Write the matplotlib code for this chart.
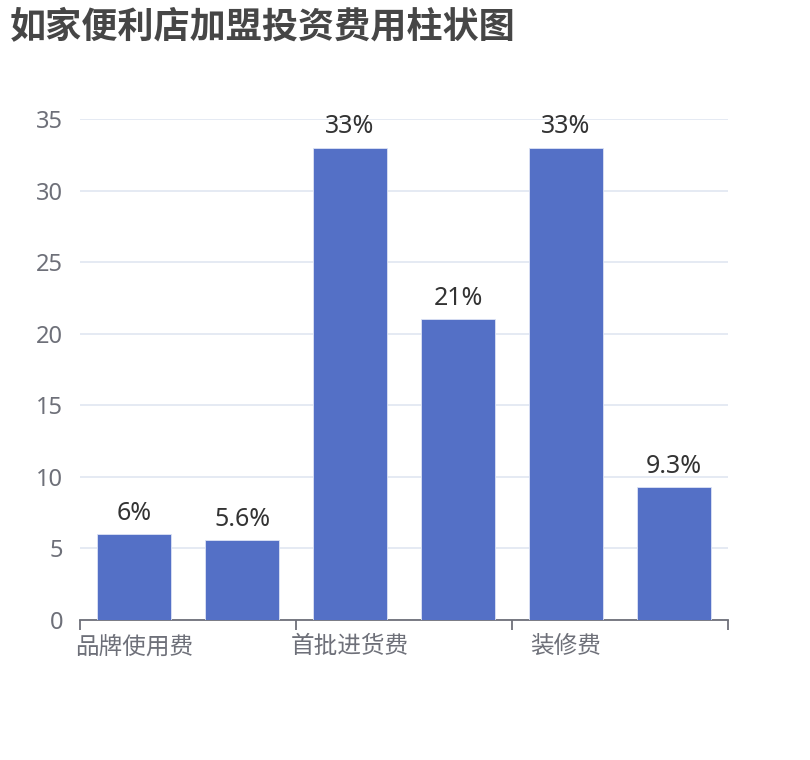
import numpy as np
import matplotlib
matplotlib.use("Agg")
import matplotlib.pyplot as plt

plt.rcParams['font.family'] = ['Noto Sans CJK SC', 'DejaVu Sans']
num_font = ['Noto Sans', 'Noto Sans CJK SC']

# data
categories = ["品牌使用费", "加盟费", "首批进货费", "保证金", "装修费", "设备费"]
values = [6, 5.6, 33, 21, 33, 9.3]
value_labels = ["6%", "5.6%", "33%", "21%", "33%", "9.3%"]
yticks = [0, 5, 10, 15, 20, 25, 30, 35]

fig = plt.figure(figsize=(8.1, 7.6), dpi=100)
ax = fig.add_axes([80/810, 140/760, 648/810, 501/760])

x = np.arange(len(categories))
bars = ax.bar(x, values, width=0.69, color="#5470c6", edgecolor="#dde3f5", linewidth=0.6, zorder=3)

for xi, v, lab in zip(x, values, value_labels):
    ax.annotate(lab, (xi, v), xytext=(0, 6), textcoords="offset points",
                ha="center", va="bottom", fontsize=18, color="#333333",
                family=num_font, zorder=4)

ax.set_xlim(-0.5, len(categories) - 0.5)
ax.set_ylim(0, 35)
ax.set_yticks(yticks)
ax.set_yticklabels([str(t) for t in yticks], family=num_font)
ax.grid(axis="y", color="#e0e6f1", linewidth=1.2, zorder=0)
ax.tick_params(axis="y", length=0, labelsize=17, labelcolor="#6e7079", pad=12)

# category axis: label every other category, ticks on boundaries
ax.set_xticks(x[::2])
ax.set_xticklabels(categories[::2])
ax.set_xticks(np.arange(-0.5, len(categories), 2), minor=True)
ax.tick_params(axis="x", which="major", length=0, labelsize=17, labelcolor="#6e7079", pad=11)
ax.tick_params(axis="x", which="minor", length=7, width=1.3, color="#6e7079")

for s in ["top", "right", "left"]:
    ax.spines[s].set_visible(False)
ax.spines["bottom"].set_color("#6e7079")
ax.spines["bottom"].set_linewidth(1.3)

fig.text(10/810, 1 - 8/760, "如家便利店加盟投资费用柱状图", ha="left", va="top",
         fontsize=26, fontweight="bold", color="#464646")

fig.savefig("out.png", dpi=100)
